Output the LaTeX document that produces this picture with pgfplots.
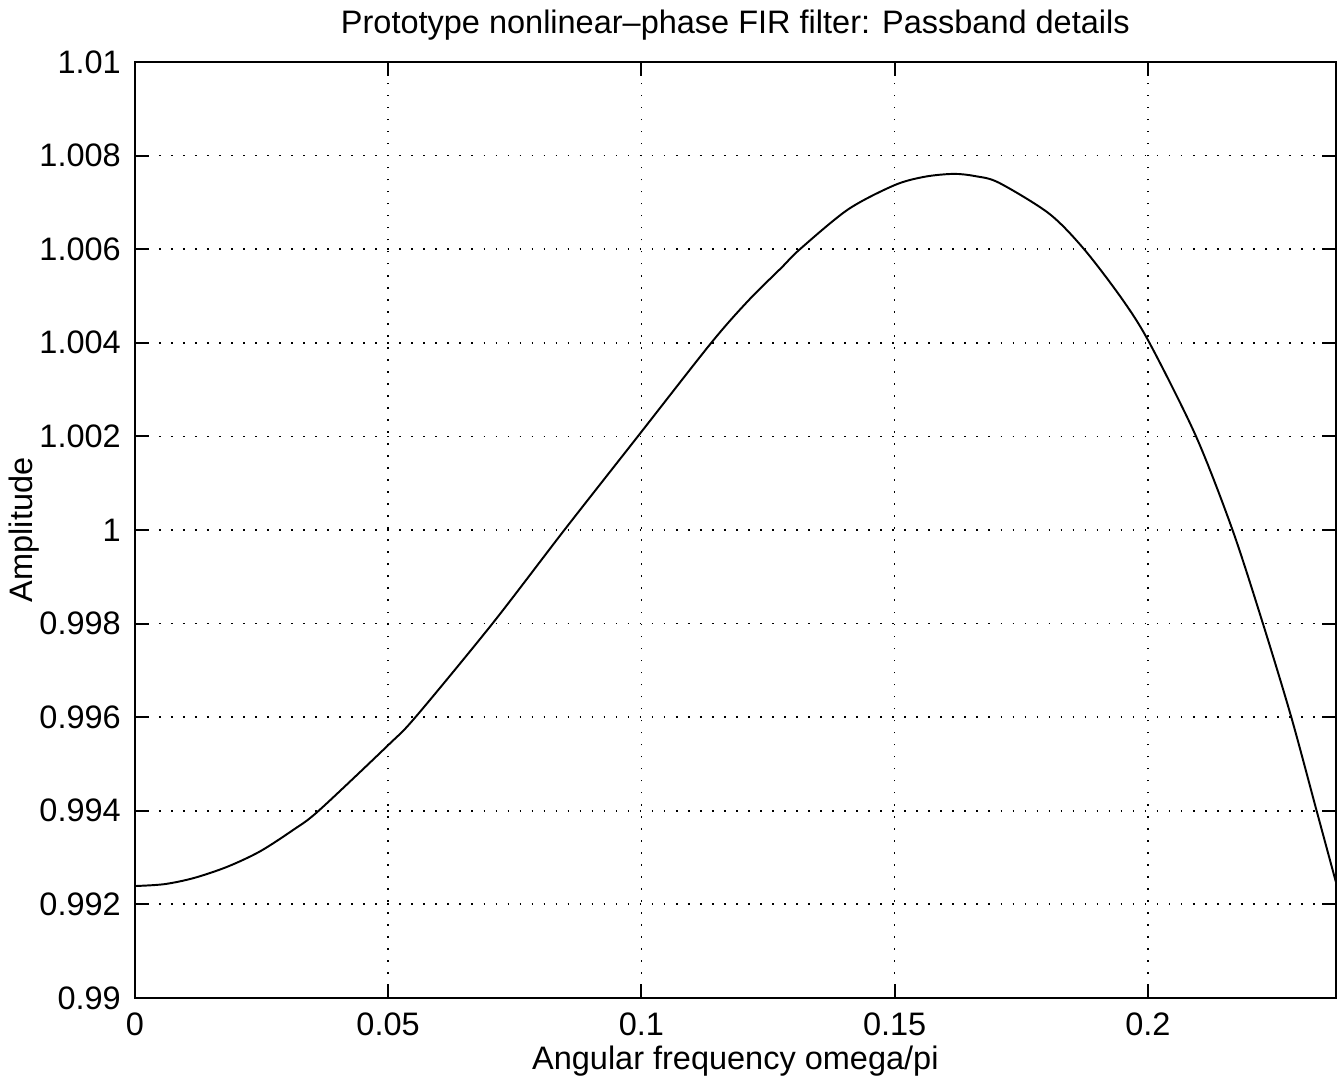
\documentclass[border=0pt]{standalone}
\usepackage{fontspec}
\setmainfont{Liberation Sans}
\usepackage{pgfplots}
\pgfplotsset{compat=1.18}
\begin{document}
\begin{tikzpicture}
\useasboundingbox (-41.5pt,-26.2pt) rectangle (371.8pt,307.1pt);
\begin{axis}[
  at={(0,0)}, anchor=south west,
  scale only axis, width=369.6pt, height=288pt,
  xmin=0, xmax=0.2371, ymin=0.99, ymax=1.01,
  xtick={0,0.05,0.1,0.15,0.2},
  ytick={0.99,0.992,0.994,0.996,0.998,1,1.002,1.004,1.006,1.008,1.01},
  scaled ticks=false,
  /pgf/number format/assume math mode=true,
  xticklabel style={/pgf/number format/fixed,/pgf/number format/precision=3, anchor=base, yshift=-11.7pt},
  yticklabel style={/pgf/number format/fixed,/pgf/number format/precision=3, xshift=-0.8pt},
  grid=major,
  major grid style={black, line width=0.5pt, dash pattern=on 0.5pt off 3.2pt},
  tick align=inside, major tick length=4.2pt,
  tick style={black, line width=0.6pt},
  xtick pos=both, ytick pos=both,
  axis line style={black, line width=0.6pt},
  every axis title shift=0pt,
  title={Prototype nonlinear--phase FIR filter: Passband details},
  title style={at={(axis description cs:0.5,1.031)}, anchor=base, inner sep=0pt, yshift=0pt},
  xlabel={Angular frequency omega/pi},
  xlabel style={at={(axis description cs:0.5,-0.0769)}, anchor=base, inner sep=0pt},
  ylabel={Amplitude},
  ylabel style={at={(axis description cs:-0.0849,0.5)}, anchor=base, rotate=0, inner sep=0pt},
]
\addplot[black, line width=0.6pt, smooth, tension=0.5] coordinates {
(0.0000,0.99239)
(0.0058,0.99243)
(0.0116,0.99256)
(0.0182,0.99280)
(0.0247,0.99313)
(0.0314,0.99360)
(0.0363,0.99400)
(0.0500,0.99540)
(0.0554,0.99600)
(0.0706,0.99800)
(0.0848,1.00000)
(0.0993,1.00200)
(0.1138,1.00400)
(0.1211,1.00490)
(0.1277,1.00561)
(0.1313,1.00600)
(0.1408,1.00685)
(0.1500,1.00737)
(0.1560,1.00755)
(0.1617,1.00761)
(0.1660,1.00756)
(0.1706,1.00742)
(0.1805,1.00676)
(0.1874,1.00600)
(0.1950,1.00492)
(0.2003,1.00400)
(0.2095,1.00200)
(0.2167,1.00000)
(0.2227,0.99800)
(0.2283,0.99600)
(0.2333,0.99400)
(0.2371,0.99248)
};
\end{axis}
\end{tikzpicture}
\end{document}
